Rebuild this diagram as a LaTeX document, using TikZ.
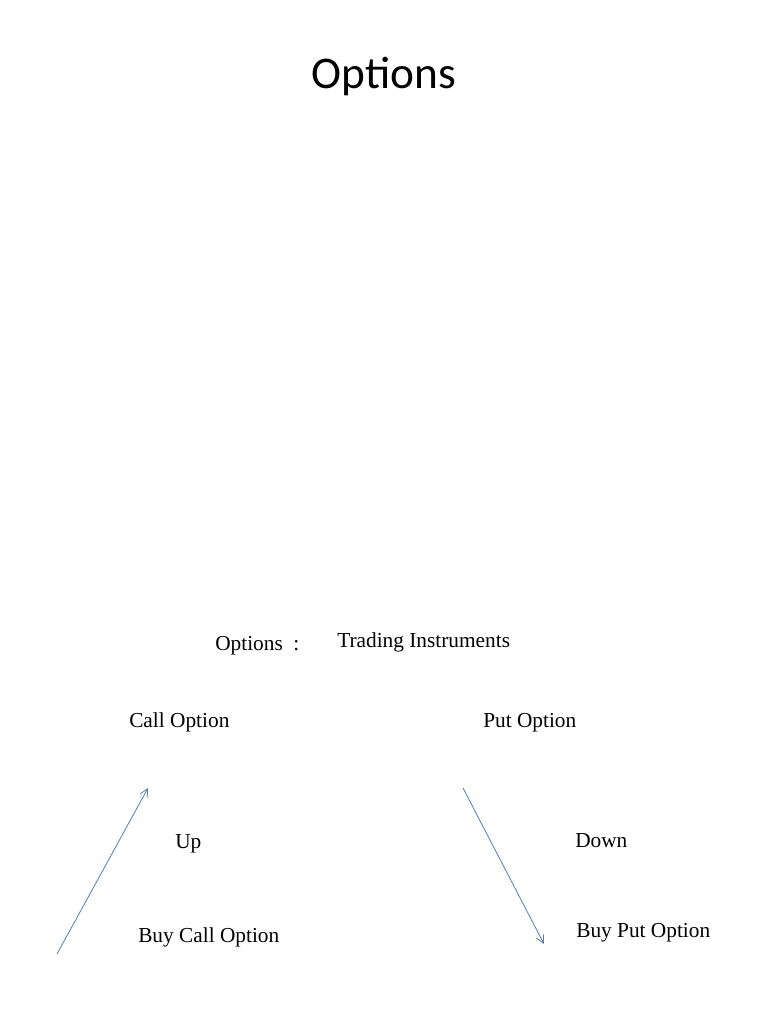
\documentclass[tikz,border=0pt]{standalone}
\usepackage{fontspec}
\setmainfont{Liberation Serif}
\newfontfamily\titlefont{Carlito}
\usetikzlibrary{arrows.meta}
\definecolor{officeblue}{HTML}{4F81BD}
\begin{document}
\begin{tikzpicture}[
    x=0.75pt, y=-0.75pt,
    title/.style={font=\titlefont\fontsize{34}{40}\selectfont, anchor=base},
    label/.style={font=\fontsize{16}{19}\selectfont, anchor=base west, inner sep=0pt},
    trend/.style={draw=officeblue, line width=0.6pt, -{Straight Barb[length=6pt, width=6pt]}},
  ]
    \useasboundingbox[fill=white] (0,0) rectangle (768,1024);
    \node[title] (head) at (384,89) {Options};
    \node[label] (opt)   at (215,650) {Options\ \ :};    \node[label] (instr) at (337,647) {Trading Instruments};
    \node[label] (call)  at (129,727) {Call Option};     \node[label] (put)   at (483,727) {Put Option};
    \node[label] (up)    at (175,848) {Up};              \node[label] (down)  at (575,847) {Down};
    \node[label] (buyc)  at (138,942) {Buy Call Option}; \node[label] (buyp)  at (576,937) {Buy Put Option};
    % rising and falling price
    \coordinate (upfrom) at (57,954);   \coordinate (upto) at (148,788);
    \coordinate (dnfrom) at (463,788);  \coordinate (dnto) at (544,944);
    \draw[trend] (upfrom) -- (upto);
    \draw[trend] (dnfrom) -- (dnto);
  \end{tikzpicture}
\end{document}
